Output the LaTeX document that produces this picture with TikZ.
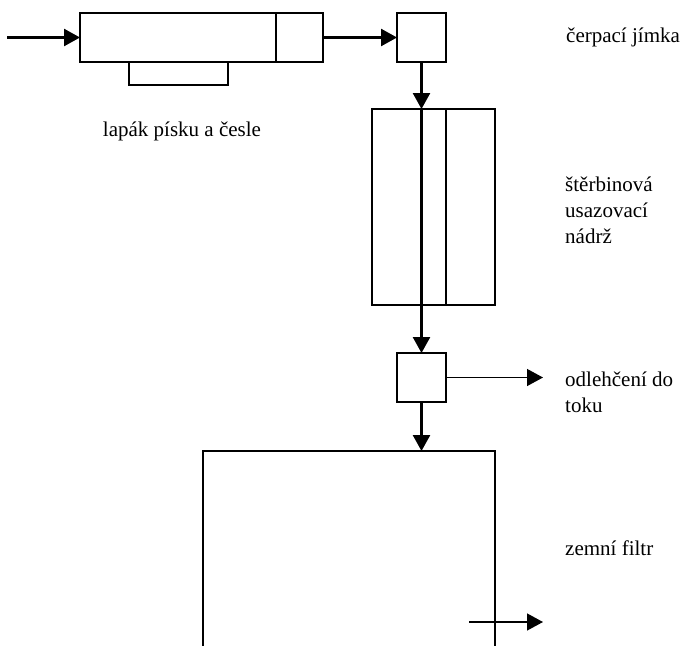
\documentclass[tikz,border=0pt]{standalone}
\usepackage{fontspec}
\setmainfont{Liberation Serif}
\usetikzlibrary{arrows.meta}
\begin{document}
\begin{tikzpicture}[x=1pt,y=-1pt,
  box/.style={draw,line width=1.6pt,inner sep=0pt,outer sep=0pt},
  flow/.style={line width=2.6pt,-{Triangle[length=16pt,width=17pt]}},
  thinflow/.style={line width=1.4pt,-{Triangle[length=16pt,width=17pt]}},
  lbl/.style={font=\fontsize{21}{26}\selectfont,align=left,inner sep=0pt}]
\useasboundingbox[fill=white] (0,0) rectangle (681,646);
% grit trap and screens
\node[box,minimum width=243pt,minimum height=49pt,anchor=north west] (grit) at (80,13) {};
\draw[line width=1.6pt] (276,13) -- (276,62);
\node[box,minimum width=99pt,minimum height=23pt,anchor=north west] (sand) at (129,62) {};
\coordinate (in) at (7,37.5);
\draw[flow] (in) -- (grit.west);
% pump sump
\node[box,minimum width=49pt,minimum height=49pt,anchor=north west] (pump) at (397,13) {};
\draw[flow] (grit.east) -- (pump.west);
% settling tank
\node[box,minimum width=123pt,minimum height=196pt,anchor=north west] (tank) at (372,109) {};
\draw[line width=1.6pt] (446,109) -- (446,305);
\draw[flow] (pump.south) -- (pump.south |- tank.north);
\draw[line width=2.2pt] (pump.south |- tank.north) -- (pump.south |- tank.south);
% splitter
\node[box,minimum width=49pt,minimum height=49pt,anchor=north west] (split) at (397,353) {};
\draw[flow] (pump.south |- tank.south) -- (split.north);
\coordinate (relief) at (543,377.5);
\draw[thinflow] (split.east) -- (relief);
% soil filter
\coordinate (ftop) at (split.south |- 0,451);
\draw[line width=1.6pt] (203,660) |- (495,451) -- (495,660);
\draw[flow] (split.south) -- (ftop);
\coordinate (outA) at (469,622);
\coordinate (outB) at (543,622);
\draw[thinflow] (outA) -- (outB);
% labels
\node[lbl,anchor=west] (l1) at (566,37) {čerpací jímka};
\node[lbl] (l2) at (182,131) {lapák písku a česle};
\node[lbl,anchor=west] (l3) at (565,210) {štěrbinová\\usazovací\\nádrž};
\node[lbl,anchor=west] (l4) at (565,392) {odlehčení do\\toku};
\node[lbl,anchor=west] (l5) at (565,548) {zemní filtr};
\end{tikzpicture}
\end{document}
